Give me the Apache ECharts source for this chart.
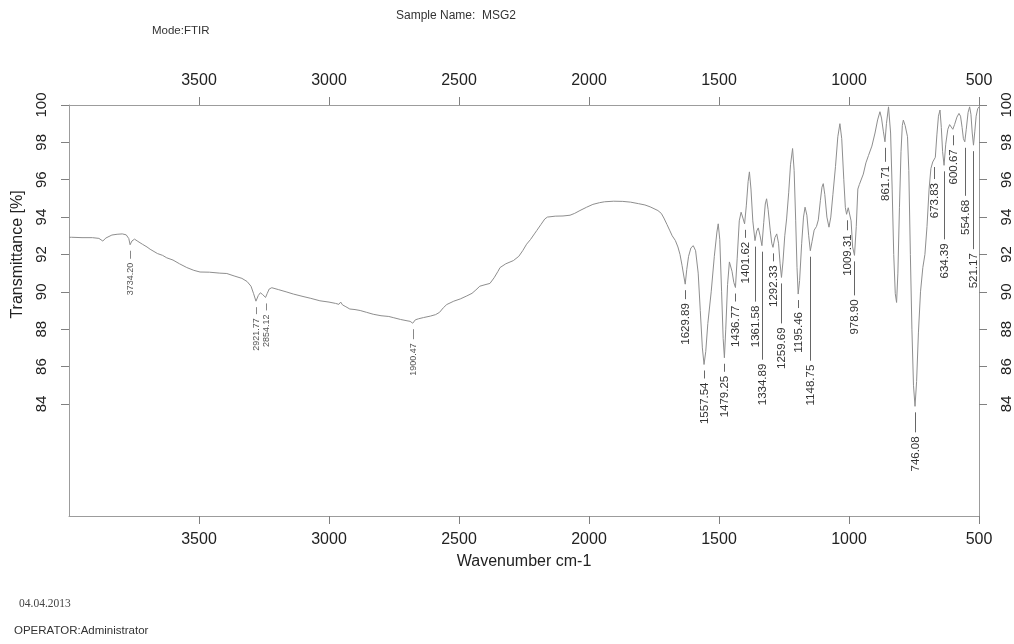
<!DOCTYPE html>
<html><head><meta charset="utf-8">
<script src="https://cdn.jsdelivr.net/npm/echarts@6/dist/echarts.min.js"></script>
<style>html,body{margin:0;padding:0;background:#fff}#c{width:1014px;height:644px}</style>
</head><body><div id="c"></div>
<script>
// ---- data ----
const wavenumbers = [4000,3990,3950,3910,3885,3870,3858,3835,3815,3795,3780,3770,3765,3758,3748,3735,3718,3700,3688,3660,3640,3624,3600,3575,3547,3520,3496,3460,3420,3393,3365,3335,3315,3300,3290,3281,3272,3264,3255,3244,3238,3230,3220,3195,3165,3137,3100,3070,3035,3000,2975,2962,2955,2948,2935,2920,2900,2880,2855,2830,2800,2770,2753,2725,2700,2688,2678,2668,2655,2637,2610,2590,2575,2560,2547,2520,2495,2470,2450,2435,2420,2400,2381,2365,2350,2342,2320,2291,2270,2255,2240,2225,2210,2201,2185,2170,2160,2130,2100,2073,2055,2035,2009,1985,1960,1940,1905,1870,1840,1810,1785,1765,1750,1735,1722,1712,1700,1690,1680,1668,1658,1650,1642,1636,1629.89,1624,1617,1608,1599,1590,1580,1572,1564,1557.54,1551,1543,1530,1518,1508,1503,1497,1490,1484,1479.25,1474,1467,1460,1456,1450,1443,1436.77,1430,1422,1415,1408,1401.62,1395,1388,1383,1377,1370,1361.58,1355,1349,1342,1334.89,1328,1322,1317,1311,1303,1297,1292.33,1285,1278,1271,1265,1259.69,1254,1247,1240,1232,1225,1217,1211,1205,1200,1195.46,1190,1182,1175,1169,1162,1155,1148.75,1142,1134,1125,1118,1110,1104,1099,1093,1085,1077,1070,1062,1052,1043,1035,1028,1020,1014,1009.31,1003,997,992,986,978.9,972,966,960,953,945,935,925,912,900,890,881,875,868,861.71,856,848,845,840,834,828,822,817,812,806,800,795,791,784,775,770,764,758,752,746.08,740,733,725,716,708,700,692,685,678,673.83,668,662,656,650,645,640,634.39,628,620,613,606,600.67,594,585,577,571,565,560,554.68,549,542,536,531,526,521.17,516,511,505,500];
const transmittance = [92.92,92.92,92.9,92.9,92.86,92.72,92.88,93.04,93.08,93.1,93.05,92.85,92.52,92.72,92.82,92.7,92.55,92.4,92.28,92.05,91.95,91.82,91.7,91.5,91.3,91.15,91.06,91.05,91.0,90.98,90.85,90.72,90.55,90.3,89.9,89.5,89.8,89.95,89.85,89.7,89.9,90.15,90.22,90.12,90.0,89.88,89.75,89.65,89.52,89.45,89.38,89.33,89.45,89.3,89.2,89.08,89.05,89.0,88.9,88.8,88.72,88.68,88.62,88.52,88.45,88.42,88.32,88.5,88.56,88.62,88.7,88.78,88.9,89.15,89.32,89.5,89.62,89.78,89.92,90.1,90.3,90.38,90.45,90.75,91.1,91.3,91.5,91.67,91.9,92.2,92.55,92.8,93.1,93.28,93.6,93.9,94.0,94.05,94.06,94.1,94.2,94.35,94.53,94.68,94.77,94.82,94.85,94.84,94.8,94.72,94.65,94.55,94.45,94.35,94.2,93.95,93.6,93.3,93.0,92.75,92.4,92.0,91.4,90.9,90.41,91.2,91.9,92.35,92.47,92.2,91.0,89.0,87.0,86.11,86.8,88.3,90.0,91.9,93.2,93.64,92.8,90.0,87.5,86.47,88.0,90.4,91.6,91.65,91.1,90.5,90.23,91.8,93.8,94.26,93.95,93.64,94.6,95.9,96.42,95.5,93.8,92.74,93.25,93.42,93.0,92.47,93.7,94.7,94.98,94.4,93.3,92.6,92.38,92.9,93.1,92.6,91.5,90.77,91.6,93.0,93.9,95.3,96.8,97.67,96.5,93.8,91.3,89.88,90.6,92.6,94.0,94.53,94.1,93.0,92.2,92.7,93.3,93.5,93.85,94.9,95.6,95.79,95.2,94.0,93.46,94.0,95.2,96.7,98.3,99.0,98.2,96.0,94.5,94.15,94.5,94.6,93.8,92.4,91.95,93.5,95.5,95.75,95.7,96.3,96.9,97.3,97.8,98.5,99.2,99.64,99.3,98.6,98.03,99.0,99.9,100.0,98.5,95.5,92.0,89.9,89.43,91.0,94.5,97.5,98.9,99.19,98.9,98.3,96.5,92.0,88.0,85.0,83.87,85.2,87.8,90.0,91.3,92.0,93.5,95.5,96.6,96.95,97.0,97.2,98.4,99.4,99.73,98.8,97.5,96.77,97.9,98.7,98.95,98.85,98.7,98.95,99.35,99.55,99.4,98.8,98.2,98.03,98.7,99.6,99.9,99.5,98.5,97.85,98.6,99.4,99.8,99.9];

const peakWavenumbers = [3765,3281,3244,2678,1629.89,1557.54,1479.25,1436.77,1401.62,1361.58,1334.89,1292.33,1259.69,1195.46,1148.75,1009.31,978.9,861.71,746.08,673.83,634.39,600.67,554.68,521.17];
const peakLabels = ['3734.20','2921.77','2854.12','1900.47','1629.89','1557.54','1479.25','1436.77','1401.62','1361.58','1334.89','1292.33','1259.69','1195.46','1148.75','1009.31','978.90','861.71','746.08','673.83','634.39','600.67','554.68','521.17'];

const xTickValues = [3500,3000,2500,2000,1500,1000,500];
const yTickValues = [84,86,88,90,92,94,96,98,100];

// ---- layout / style (not data) ----
const X_MIN = 500, X_MAX = 4000, Y_MIN = 78, Y_MAX = 100;
const G = {left: 69, right: 35, top: 105, bottom: 128};
const W = 1014 - G.left - G.right, H = 644 - G.top - G.bottom;
const tickGridLeft = G.left + (X_MAX - xTickValues[0]) / (X_MAX - X_MIN) * W;
const tickGridHeight = (Y_MAX - yTickValues[0]) / (Y_MAX - Y_MIN) * H;
const leaderLen = [8,7,7,10,9,8,8,8,8,55,108,8,40,8,104,10,34,14,20,12,68,10,48,98];
const FRAME = '#9c9c9c', TICK = '#808080', CURVE = '#8e8e8e', TXT = '#222';
const FONT = 'Liberation Sans, Arial, sans-serif';
const plain = v => String(v);

function interpT(w) {
  for (let i = 0; i < wavenumbers.length - 1; i++) {
    const a = wavenumbers[i], b = wavenumbers[i + 1];
    if (w <= a && w >= b) {
      const t = (a - w) / (a - b);
      return transmittance[i] + t * (transmittance[i + 1] - transmittance[i]);
    }
  }
  return transmittance[transmittance.length - 1];
}

const spectrum = wavenumbers.map((w, i) => [w, transmittance[i]]);
const peaks = peakWavenumbers.map((w, i) => [w, interpT(w), i]);

const frameAxisX = (pos, extra) => Object.assign({
  type: 'value', gridIndex: 0, position: pos, min: X_MIN, max: X_MAX, inverse: true,
  axisLine: {show: true, lineStyle: {color: FRAME, width: 1}},
  axisTick: {show: false}, axisLabel: {show: false}, splitLine: {show: false}
}, extra || {});
const tickAxisX = (pos) => ({
  type: 'value', gridIndex: 1, position: pos, min: X_MIN, max: xTickValues[0], interval: 500, inverse: true,
  axisLine: {show: false},
  axisTick: {show: true, length: 8, inside: false, lineStyle: {color: TICK}},
  axisLabel: {show: true, fontSize: 16, color: TXT, fontFamily: FONT, margin: 16,
    showMinLabel: true, showMaxLabel: true, formatter: plain},
  splitLine: {show: false}
});
const frameAxisY = (pos) => ({
  type: 'value', gridIndex: 0, position: pos, min: Y_MIN, max: Y_MAX,
  axisLine: {show: true, lineStyle: {color: FRAME, width: 1}},
  axisTick: {show: false}, axisLabel: {show: false}, splitLine: {show: false}
});
const tickAxisY = (pos, extra) => Object.assign({
  type: 'value', gridIndex: 2, position: pos, min: yTickValues[0], max: Y_MAX, interval: 2,
  axisLine: {show: false},
  axisTick: {show: true, length: 8, lineStyle: {color: TICK}},
  axisLabel: {show: true, rotate: 90, fontSize: 15, color: TXT, fontFamily: FONT, margin: 20, formatter: plain},
  splitLine: {show: false}
}, extra || {});

const chart = echarts.init(document.getElementById('c'), null, {renderer: 'canvas'});
chart.setOption({
  animation: false,
  backgroundColor: '#fff',
  grid: [
    {left: G.left, right: G.right, top: G.top, bottom: G.bottom},
    {left: tickGridLeft, right: G.right, top: G.top, bottom: G.bottom},
    {left: G.left, right: G.right, top: G.top, height: tickGridHeight}
  ],
  xAxis: [
    frameAxisX('bottom', {name: 'Wavenumber cm-1', nameLocation: 'middle', nameGap: 38,
      nameTextStyle: {fontSize: 16, color: TXT, fontFamily: FONT}}),
    frameAxisX('top'),
    tickAxisX('bottom'),
    tickAxisX('top'),
    {type: 'value', gridIndex: 2, show: false, min: X_MIN, max: X_MAX}
  ],
  yAxis: [
    frameAxisY('left'),
    frameAxisY('right'),
    {type: 'value', gridIndex: 1, show: false, min: Y_MIN, max: Y_MAX},
    tickAxisY('left', {name: 'Transmittance [%]', nameLocation: 'middle', nameGap: 43, nameRotate: 90,
      nameTextStyle: {fontSize: 16, color: TXT, fontFamily: FONT}}),
    tickAxisY('right')
  ],
  series: [
    {
      type: 'line', xAxisIndex: 0, yAxisIndex: 0, data: spectrum,
      showSymbol: false, symbol: 'none', smooth: false,
      lineStyle: {color: CURVE, width: 1}
    },
    {
      type: 'custom', xAxisIndex: 0, yAxisIndex: 0, data: peaks, clip: false,
      renderItem: function (params, api) {
        const i = api.value(2);
        const p = api.coord([api.value(0), api.value(1)]);
        const small = i < 4;
        const x = Math.round(p[0]) + 0.5;
        const y0 = p[1] + 6, y1 = y0 + leaderLen[i];
        return {
          type: 'group', children: [
            {type: 'line', shape: {x1: x, y1: y0, x2: x, y2: y1}, style: {stroke: small ? '#888' : '#666', lineWidth: 1}},
            {type: 'text', x: x, y: y1 + 4, rotation: Math.PI / 2,
              style: {text: peakLabels[i], fontSize: small ? 9 : 11.5, fontFamily: FONT,
                fill: small ? '#555' : '#333', align: 'right', verticalAlign: 'middle'}}
          ]
        };
      }
    }
  ],
  graphic: [
    {type: 'text', left: 152, top: 25, style: {text: 'Mode:FTIR', fontSize: 11.5, fontFamily: FONT, fill: '#333'}},
    {type: 'text', left: 396, top: 10, style: {text: 'Sample Name:  MSG2', fontSize: 12, fontFamily: FONT, fill: '#333'}},
    {type: 'text', left: 19, top: 598, style: {text: '04.04.2013', fontSize: 11.5, fontFamily: 'Liberation Serif, Times New Roman, serif', fill: '#444'}},
    {type: 'text', left: 14, top: 625, style: {text: 'OPERATOR:Administrator', fontSize: 11.5, fontFamily: FONT, fill: '#333'}}
  ]
});
</script>
</body></html>
